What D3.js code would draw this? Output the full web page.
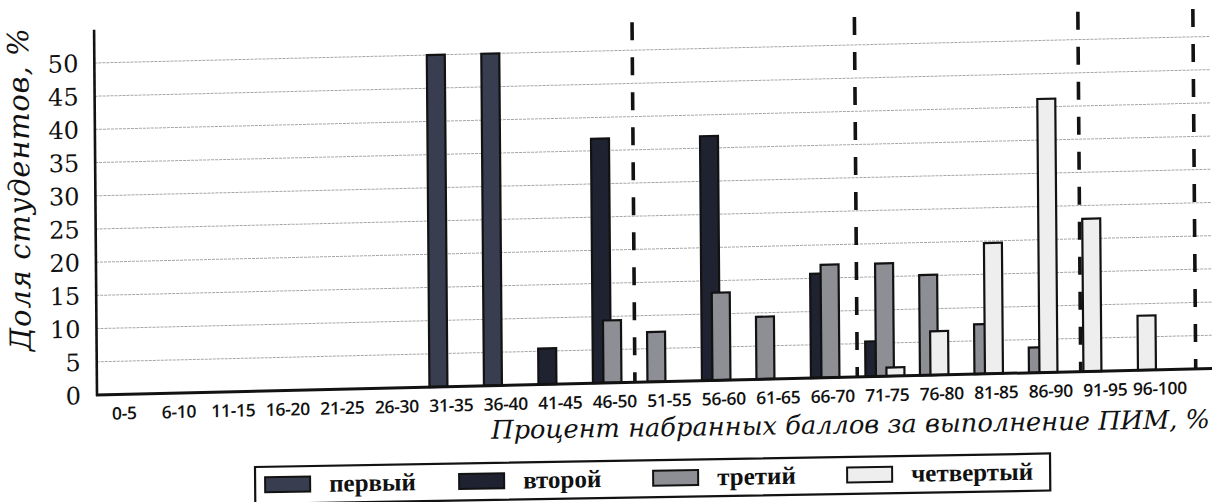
<!DOCTYPE html>
<html lang="ru">
<head>
<meta charset="utf-8">
<script src="https://cdn.jsdelivr.net/npm/d3@7"></script>
<style>
  html, body { margin: 0; padding: 0; background: #fff; }
  svg { display: block; }
</style>
</head>
<body>
<svg id="chart" width="1221" height="502"></svg>
<script>
/* ── Data ────────────────────────────────────────────────────────── */
const categories = ['0-5', '6-10', '11-15', '16-20', '21-25', '26-30', '31-35', '36-40', '41-45', '46-50',
                    '51-55', '56-60', '61-65', '66-70', '71-75', '76-80', '81-85', '86-90', '91-95', '96-100'];
const seriesNames = ['первый', 'второй', 'третий', 'четвертый'];
const firstYear   = [0, 0, 0, 0, 0, 0, 50, 50, 0, 0, 0, 0, 0, 0, 0, 0, 0, 0, 0, 0];
const secondYear  = [0, 0, 0, 0, 0, 0, 0, 0, 5.4, 36.8, 0, 36.8, 0, 15.7, 5.3, 0, 0, 0, 0, 0];
const thirdYear   = [0, 0, 0, 0, 0, 0, 0, 0, 0, 9.4, 7.5, 13.2, 9.4, 17, 17, 15.1, 7.5, 3.8, 0, 0];
const fourthYear  = [0, 0, 0, 0, 0, 0, 0, 0, 0, 0, 0, 0, 0, 0, 1.3, 6.6, 19.7, 41.2, 23, 8.2];
const yTicks      = [0, 5, 10, 15, 20, 25, 30, 35, 40, 45, 50];
// hand-drawn grade boundaries, in category units
const dividers    = [9.87, 13.95, 18.05, 20.16];

const seriesValues = [firstYear, secondYear, thirdYear, fourthYear];
const fills = ['#383d50', '#1f2230', '#8d8f95', '#eeeeee'];
const INK = '#121212';

/* ── Scan tilt: the page was scanned slightly skewed ─────────────── */
function tilt(px, py, b, c) {
  return `matrix(1,${b},${c},1,${-c * py},${-b * px})`;
}

const svg = d3.select('#chart');
svg.append('rect').attr('width', 1221).attr('height', 502).attr('fill', '#fff');

const X0 = 97, Y0 = 395;
const plot = svg.append('g').attr('transform', tilt(X0, Y0, -0.0238, 0.008));

/* ── Scales ──────────────────────────────────────────────────────── */
const x = d3.scaleBand().domain(categories).range([X0, X0 + 1090]).padding(0);
const xLin = d3.scaleLinear().domain([0, categories.length]).range([X0, X0 + 1090]);
const y = d3.scaleLinear().domain([0, 55]).range([Y0, Y0 - 55 * 6.64]);
const bw = x.bandwidth();
const slot = d3.scaleLinear().domain([0, 1]).range([bw * 0.1, bw * 0.1 + bw * 0.193]);
const barW = bw * 0.33;
const xRight = X0 + 1115;

/* ── Grid ────────────────────────────────────────────────────────── */
plot.append('g')
  .selectAll('line').data(yTicks.filter(t => t > 0)).join('line')
  .attr('x1', X0).attr('x2', xRight)
  .attr('y1', d => y(d)).attr('y2', d => y(d))
  .attr('stroke', '#a6a6a6').attr('stroke-width', 1)
  .attr('stroke-dasharray', '3,1');

/* ── Bars: non-empty series packed side by side, overlapping ─────── */
const bars = [];
categories.forEach((c, ci) => {
  let k = 0;
  seriesValues.forEach((vals, si) => {
    if (vals[ci] > 0) { bars.push({ cat: c, s: si, v: vals[ci], slot: k }); k++; }
  });
});
bars.sort((a, b) => a.s - b.s);

plot.append('g')
  .selectAll('rect').data(bars).join('rect')
  .attr('x', d => x(d.cat) + slot(d.slot))
  .attr('y', d => y(d.v))
  .attr('width', barW)
  .attr('height', d => y(0) - y(d.v))
  .attr('fill', d => fills[d.s])
  .attr('stroke', INK).attr('stroke-width', 2.2);

/* ── Grade dividers ──────────────────────────────────────────────── */
plot.append('g')
  .selectAll('line').data(dividers).join('line')
  .attr('x1', d => xLin(d)).attr('x2', d => xLin(d))
  .attr('y1', y(54.2)).attr('y2', y(0))
  .attr('stroke', INK).attr('stroke-width', 3.6)
  .attr('stroke-dasharray', '18,17');

/* ── Axes ────────────────────────────────────────────────────────── */
plot.append('line')
  .attr('x1', X0).attr('x2', X0).attr('y1', y(55)).attr('y2', y(0) + 1)
  .attr('stroke', INK).attr('stroke-width', 2.6);
plot.append('line')
  .attr('x1', X0 - 1).attr('x2', xRight).attr('y1', y(0)).attr('y2', y(0))
  .attr('stroke', INK).attr('stroke-width', 3);

plot.append('g')
  .selectAll('text').data(yTicks).join('text')
  .attr('x', X0 - 16).attr('y', d => y(d)).attr('dy', '0.36em')
  .attr('text-anchor', 'end')
  .attr('font-family', '"DejaVu Serif", serif').attr('font-size', 24)
  .attr('fill', '#111')
  .text(d => d);

plot.append('g')
  .selectAll('text').data(categories).join('text')
  .attr('x', d => x(d) + bw / 2).attr('y', Y0 + 25)
  .attr('text-anchor', 'middle')
  .attr('font-family', '"Open Sans", sans-serif').attr('font-weight', 600).attr('font-size', 17.5)
  .attr('letter-spacing', -0.3)
  .attr('fill', '#111')
  .text(d => d);

plot.append('text')
  .attr('transform', 'translate(31,188) rotate(-90)')
  .attr('text-anchor', 'middle')
  .attr('font-family', '"DejaVu Serif", serif').attr('font-style', 'italic').attr('font-size', 29)
  .attr('textLength', 323).attr('lengthAdjust', 'spacing')
  .attr('fill', '#111')
  .text('Доля студентов, %');

/* ── X axis title ────────────────────────────────────────────────── */
svg.append('g').attr('transform', tilt(1210, 428, -0.015, 0.008))
  .append('text')
  .attr('x', 1210).attr('y', 428)
  .attr('text-anchor', 'end')
  .attr('font-family', '"DejaVu Serif", serif').attr('font-style', 'italic').attr('font-size', 25.7)
  .attr('fill', '#111')
  .text('Процент набранных баллов за выполнение ПИМ, %');

/* ── Legend ──────────────────────────────────────────────────────── */
const legend = svg.append('g').attr('transform', tilt(255, 467, -0.017, 0.008));
legend.append('rect')
  .attr('x', 255).attr('y', 467).attr('width', 795).attr('height', 37)
  .attr('fill', '#fff').attr('stroke', INK).attr('stroke-width', 2.2);
const lx = d3.scaleLinear().domain([0, 1]).range([265, 459]);
const items = legend.selectAll('g.item').data(seriesNames).join('g').attr('class', 'item');
items.append('rect')
  .attr('x', (d, i) => lx(i)).attr('y', 477.5)
  .attr('width', 45).attr('height', 15)
  .attr('fill', (d, i) => fills[i])
  .attr('stroke', INK).attr('stroke-width', 2);
items.append('text')
  .attr('x', (d, i) => lx(i) + 64).attr('y', 493)
  .attr('font-family', '"Liberation Serif", serif').attr('font-weight', 'bold').attr('font-size', 25)
  .attr('fill', '#111')
  .text(d => d);
</script>
</body>
</html>
